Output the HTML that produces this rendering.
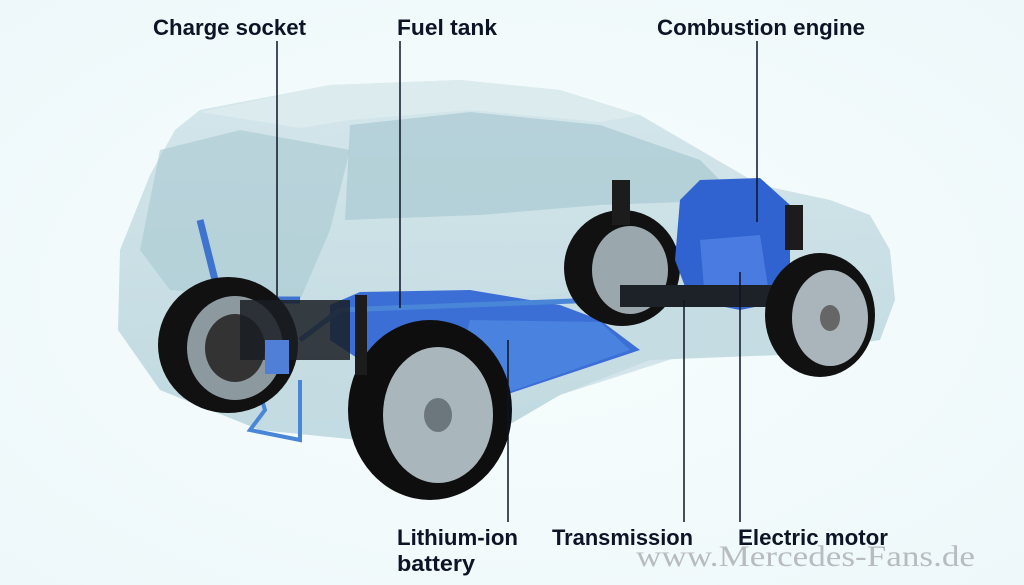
<!DOCTYPE html>
<html><head><meta charset="utf-8"><style>
html,body{margin:0;padding:0;background:#f4fbfc;}
svg{display:block}
text{font-family:"Liberation Sans",sans-serif;font-weight:bold;fill:#0c1426;}
</style></head><body>
<svg width="1024" height="585" viewBox="0 0 1024 585" xmlns="http://www.w3.org/2000/svg">
<defs>
<radialGradient id="bg" cx="50%" cy="50%" r="70%"><stop offset="0" stop-color="#f8fdfd"/><stop offset="1" stop-color="#eef8fa"/></radialGradient>
<linearGradient id="body" x1="0" y1="0" x2="0" y2="1"><stop offset="0" stop-color="#cfe3e8"/><stop offset="1" stop-color="#b6d3db"/></linearGradient>
</defs>
<rect width="1024" height="585" fill="url(#bg)"/>
<path d="M120,250 L150,175 L175,130 L200,110 L330,85 L460,80 L560,90 L640,115 L700,150 L760,185 L830,200 L870,215 L890,250 L895,300 L880,340 L780,355 L650,360 L560,395 L500,430 L360,440 L260,430 L160,390 L118,330 Z" fill="url(#body)" opacity="0.85"/>
<path d="M200,112 L330,85 L460,80 L560,90 L640,115 L600,122 L470,110 L350,120 L300,128 L250,120 Z" fill="#dcebee"/>
<path d="M350,125 L470,112 L600,125 L700,160 L740,200 L600,205 L480,215 L345,220 Z" fill="#a9c9d2" opacity="0.7"/>
<path d="M160,150 L240,130 L350,150 L330,230 L300,300 L170,290 L140,250 Z" fill="#a8c8d1" opacity="0.6"/>
<path d="M300,300 L480,300 L700,280 L860,290 L880,330 L700,350 L560,395 L360,440 L260,430 Z" fill="#c4dce2" opacity="0.7"/>
<path d="M330,305 L360,292 L470,290 L560,305 L600,320 L640,350 L610,360 L490,400 L420,400 L330,340 Z" fill="#3b6fd6"/>
<path d="M470,320 L600,322 L630,350 L500,395 L460,360 Z" fill="#4a82e0"/>
<polyline points="300,340 340,310 600,300 610,300 610,250 690,248" fill="none" stroke="#4a86d8" stroke-width="5"/>
<polyline points="250,360 265,410 250,430 300,440 300,380" fill="none" stroke="#4a86d8" stroke-width="4"/>
<polyline points="200,220 215,280 240,300 300,300" fill="none" stroke="#3f73d0" stroke-width="7"/>
<ellipse cx="228" cy="345" rx="70" ry="68" fill="#111"/>
<ellipse cx="235" cy="348" rx="48" ry="52" fill="#8c9aa0"/>
<ellipse cx="235" cy="348" rx="30" ry="34" fill="#333"/>
<rect x="240" y="300" width="110" height="60" fill="#1a1f24" opacity="0.85"/>
<rect x="265" y="340" width="24" height="34" fill="#4f7fd6"/>
<ellipse cx="622" cy="268" rx="58" ry="58" fill="#111"/>
<ellipse cx="630" cy="270" rx="38" ry="44" fill="#9aa8ad"/>
<path d="M680,200 L700,180 L760,178 L790,205 L790,300 L740,310 L690,300 L675,260 Z" fill="#3163d0"/>
<path d="M700,240 L760,235 L770,300 L705,300 Z" fill="#4a7be0"/>
<rect x="620" y="285" width="180" height="22" fill="#1c2228"/>
<rect x="612" y="180" width="18" height="45" fill="#1c1c1c"/>
<rect x="785" y="205" width="18" height="45" fill="#1c1c1c"/>
<ellipse cx="820" cy="315" rx="55" ry="62" fill="#111"/>
<ellipse cx="830" cy="318" rx="38" ry="48" fill="#a9b5ba"/>
<ellipse cx="830" cy="318" rx="10" ry="13" fill="#666"/>
<ellipse cx="430" cy="410" rx="82" ry="90" fill="#0e0e0e"/>
<ellipse cx="438" cy="415" rx="55" ry="68" fill="#a9b6bb"/>
<ellipse cx="438" cy="415" rx="14" ry="17" fill="#6b777c"/>
<rect x="355" y="295" width="12" height="80" fill="#1c1c1c"/>
<g stroke="#0c1426" stroke-width="1.5">
<line x1="277" y1="41" x2="277" y2="300"/>
<line x1="400" y1="41" x2="400" y2="308"/>
<line x1="757" y1="41" x2="757" y2="222"/>
<line x1="508" y1="340" x2="508" y2="522"/>
<line x1="684" y1="300" x2="684" y2="522"/>
<line x1="740" y1="272" x2="740" y2="522"/>
</g>
<text x="153" y="35" font-size="22" textLength="153" lengthAdjust="spacingAndGlyphs">Charge socket</text>
<text x="397" y="35" font-size="22" textLength="100" lengthAdjust="spacingAndGlyphs">Fuel tank</text>
<text x="657" y="35" font-size="22" textLength="208" lengthAdjust="spacingAndGlyphs">Combustion engine</text>
<text x="397" y="545" font-size="22" textLength="121" lengthAdjust="spacingAndGlyphs">Lithium-ion</text>
<text x="397" y="571" font-size="22" textLength="78" lengthAdjust="spacingAndGlyphs">battery</text>
<text x="552" y="545" font-size="22" textLength="141" lengthAdjust="spacingAndGlyphs">Transmission</text>
<text x="738" y="545" font-size="22" textLength="150" lengthAdjust="spacingAndGlyphs">Electric motor</text>
<text x="636" y="566" font-size="30" textLength="339" lengthAdjust="spacingAndGlyphs" style="font-family:'Liberation Serif',serif;font-weight:normal;fill:#b8bcbf">www.Mercedes-Fans.de</text>
</svg>
</body></html>
